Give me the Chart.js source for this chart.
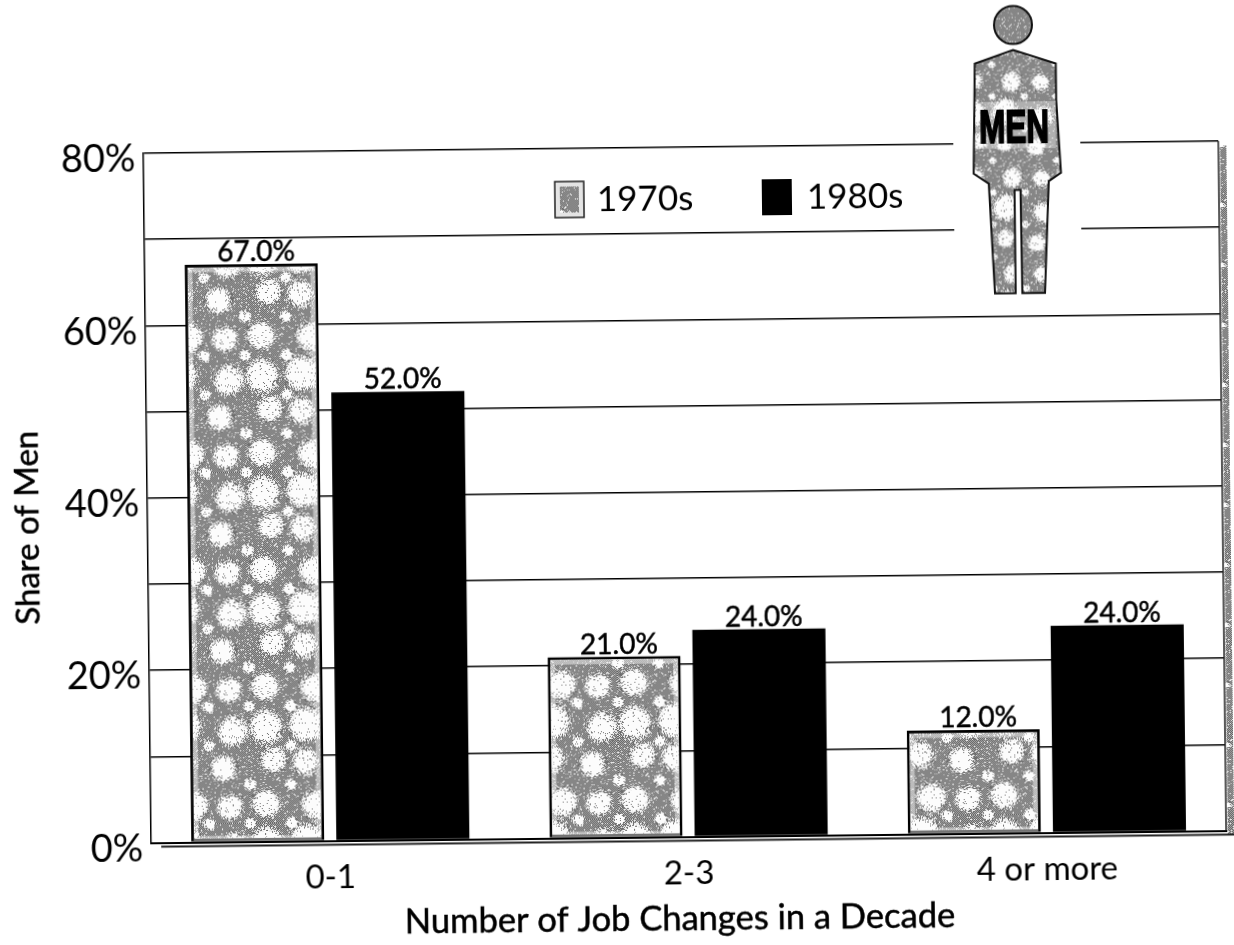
<!DOCTYPE html>
<html>
<head>
<meta charset="utf-8">
<script src="https://cdn.jsdelivr.net/npm/chart.js@4/dist/chart.umd.min.js"></script>
<style>
html,body{margin:0;padding:0;background:#fff;overflow:hidden;width:1234px;height:945px}
#c{display:block;transform:rotate(-0.65deg);transform-origin:617px 472px}
</style>
</head>
<body>
<canvas id="c" width="1234" height="945"></canvas>
<script>
const categories = ['0-1', '2-3', '4 or more'];
const series1970s = [67, 21, 12];
const series1980s = [52, 24, 24];
const seriesNames = ['1970s', '1980s'];
const yTitle = 'Share of Men';
const xTitle = 'Number of Job Changes in a Decade';
const FONT = 'Lato, "Open Sans", sans-serif';

function noise(x, y) {
  const s = Math.sin(x * 12.9898 + y * 78.233) * 43758.5453;
  return s - Math.floor(s);
}
function makeTile(w, h, cols, rows, rBase, rVar) {
  const t = document.createElement('canvas');
  t.width = w; t.height = h;
  const g = t.getContext('2d');
  const sx = w / cols, sy = h / rows;
  const blobs = [];
  for (let r = 0; r < rows; r++) for (let c = 0; c < cols; c++) {
    blobs.push({
      x: (c + 0.5) * sx + (noise(c + 1, r + 5) - 0.5) * sx * 0.3,
      y: (r + 0.5) * sy + (noise(c + 9, r + 2) - 0.5) * sy * 0.3,
      r: rBase + rVar * noise(c + 4, r + 11)
    });
    if (noise(c + 21, r + 17) > 0.6) blobs.push({ x: (c + 1) * sx, y: (r + 1) * sy, r: rBase * 0.5 });
  }
  const img = g.createImageData(w, h);
  for (let y = 0; y < h; y++) for (let x = 0; x < w; x++) {
    let q = 9;
    for (const b of blobs) {
      const dx = Math.min(Math.abs(x - b.x), w - Math.abs(x - b.x));
      const dy = Math.min(Math.abs(y - b.y), h - Math.abs(y - b.y));
      q = Math.min(q, Math.sqrt(dx * dx + dy * dy) / b.r);
    }
    q += (noise(x + 31, y) - 0.5) * 0.35;
    const n = noise(y + 3, x + 7);
    let v;
    if (q < 0.9) v = n < 0.05 ? 110 : 252;
    else if (q < 1.12) v = n < 0.5 ? 235 : 120;
    else v = ((x + y) % 2 === 0 ? 100 : 168);
    if (q >= 1.12 && n < 0.09) v = 235;
    const i = (y * w + x) * 4;
    img.data[i] = img.data[i + 1] = img.data[i + 2] = v;
    img.data[i + 3] = 255;
  }
  g.putImageData(img, 0, 0);
  return t;
}
const ctx0 = document.getElementById('c').getContext('2d');
const speckle = ctx0.createPattern(makeTile(123, 117, 3, 3, 11, 6), 'repeat');
const figureFill = ctx0.createPattern(makeTile(96, 96, 3, 3, 7, 6), 'repeat');
const dither = ctx0.createPattern(makeTile(60, 60, 1, 1, 2, 1), 'repeat');

const decor = {
  id: 'decor',
  afterDatasetsDraw(chart) {
    const ctx = chart.ctx, a = chart.chartArea;
    ctx.save();
    // light speckled margin just inside the patterned bars
    chart.getDatasetMeta(0).data.forEach(b => {
      const L = b.x - b.width / 2 + 5, T = b.y + 5;
      ctx.strokeStyle = 'rgba(255,255,255,0.45)';
      ctx.lineWidth = 5;
      ctx.strokeRect(L, T, b.width - 10, b.base - b.y - 8);
    });
    // frame: right line, hatched strip, bottom shadow
    ctx.strokeStyle = '#222'; ctx.lineWidth = 1.5;
    ctx.beginPath(); ctx.moveTo(a.right, a.top); ctx.lineTo(a.right, a.bottom); ctx.stroke();
    ctx.fillStyle = dither;
    ctx.fillRect(a.right + 1.5, a.top + 4, 6.5, a.bottom - a.top);
    ctx.fillStyle = '#222';
    ctx.fillRect(a.left + 10, a.bottom + 3, a.right - a.left - 2, 2);
    ctx.fillStyle = '#fff';
    ctx.fillRect(957, a.top - 12, 127, 100);
    ctx.restore();
  },
  afterDraw(chart) {
    const ctx = chart.ctx;
    ctx.save();
    // data labels
    ctx.fillStyle = '#000';
    ctx.strokeStyle = '#000';
    ctx.lineWidth = 0.5;
    ctx.font = '28px ' + FONT;
    ctx.textAlign = 'center';
    ctx.textBaseline = 'alphabetic';
    chart.data.datasets.forEach((ds, i) => {
      chart.getDatasetMeta(i).data.forEach((b, j) => {
        const s = ds.data[j].toFixed(1) + '%';
        ctx.fillText(s, b.x + 5, b.y - 3);
        ctx.strokeText(s, b.x + 5, b.y - 3);
      });
    });
    // legend
    const items = [[558, 600], [765, 810]];
    ctx.textAlign = 'left'; ctx.textBaseline = 'middle';
    ctx.font = '35px ' + FONT;
    chart.data.datasets.forEach((ds, i) => {
      const [sx, tx] = items[i];
      if (i === 0) {
        ctx.fillStyle = '#e4e4e4'; ctx.fillRect(sx, 181, 29, 36);
        ctx.fillStyle = dither; ctx.fillRect(sx + 5, 186, 19, 26);
        ctx.strokeStyle = '#222'; ctx.lineWidth = 1.5; ctx.strokeRect(sx, 181, 29, 36);
      } else {
        ctx.fillStyle = '#000'; ctx.fillRect(sx, 181, 30, 36);
      }
      ctx.fillStyle = '#000';
      ctx.fillText(ds.label, tx, 200);
    });
    // axis titles
    ctx.textAlign = 'center';
    ctx.strokeStyle = '#000'; ctx.lineWidth = 0.5;
    ctx.font = '34.5px ' + FONT;
    ctx.fillText(xTitle, 675, 920);
    ctx.strokeText(xTitle, 675, 920);
    ctx.save();
    ctx.translate(27, 521);
    ctx.rotate(-Math.PI / 2);
    ctx.font = '33px ' + FONT;
    ctx.fillText(yTitle, 0, 0);
    ctx.strokeText(yTitle, 0, 0);
    ctx.restore();
    // figure
    ctx.translate(3.7, 4.5);
    const X = z => 940 + z / 3, Y = z => z / 3;
    ctx.beginPath();
    ctx.arc(X(223), Y(75), 19, 0, Math.PI * 2);
    ctx.fillStyle = dither; ctx.fill();
    ctx.strokeStyle = '#111'; ctx.lineWidth = 2; ctx.stroke();
    const body = [[222,150],[350,192],[350,300],[362,520],[325,545],[310,880],[242,880],[240,570],[222,570],[222,880],[160,880],[145,550],[100,520],[107,190]];
    ctx.beginPath();
    body.forEach((p, i) => { const x = X(p[0]), y = Y(p[1]); i ? ctx.lineTo(x, y) : ctx.moveTo(x, y); });
    ctx.closePath();
    ctx.fillStyle = figureFill; ctx.fill();
    ctx.stroke();
    ctx.fillStyle = 'rgba(255,255,255,0.35)';
    ctx.fillRect(X(108), Y(305), 80, 47);
    ctx.fillStyle = '#000';
    ctx.strokeStyle = '#000'; ctx.lineWidth = 2;
    ctx.font = 'bold 47px "Liberation Sans", sans-serif';
    ctx.textAlign = 'center'; ctx.textBaseline = 'alphabetic';
    ctx.fillText('MEN', X(223), 142, 70);
    ctx.strokeText('MEN', X(223), 142, 70);
    ctx.restore();
  }
};

new Chart(ctx0, {
  type: 'bar',
  plugins: [decor],
  data: {
    labels: categories,
    datasets: [
      { label: seriesNames[0], data: series1970s, backgroundColor: speckle, borderColor: '#000', borderWidth: 3, borderSkipped: false },
      { label: seriesNames[1], data: series1980s, backgroundColor: '#000', borderWidth: 0 }
    ]
  },
  options: {
    responsive: false,
    animation: false,
    devicePixelRatio: 1,
    layout: { padding: { top: 148, right: 12, bottom: 0, left: 0 } },
    datasets: { bar: { categoryPercentage: 0.81, barPercentage: 0.917 } },
    plugins: { legend: { display: false }, tooltip: { enabled: false } },
    scales: {
      x: {
        afterFit: s => { s.height = 107.5; },
        grid: { display: false },
        border: { display: true, color: '#000', width: 2 },
        ticks: { color: '#000', padding: 9, maxRotation: 0, font: { family: FONT, size: 33 } }
      },
      y: {
        min: 0, max: 80,
        afterFit: s => { s.width = 147; },
        grid: { color: '#000', lineWidth: 1.5, drawTicks: false },
        border: { display: true, color: '#000', width: 1.5 },
        ticks: {
          stepSize: 10, padding: 8, color: '#000', autoSkip: false,
          font: { family: FONT, size: 38, lineHeight: 0.32 },
          callback: v => v % 20 === 0 ? ['', v + '%'] : ''
        }
      }
    }
  }
});
</script>
</body>
</html>
